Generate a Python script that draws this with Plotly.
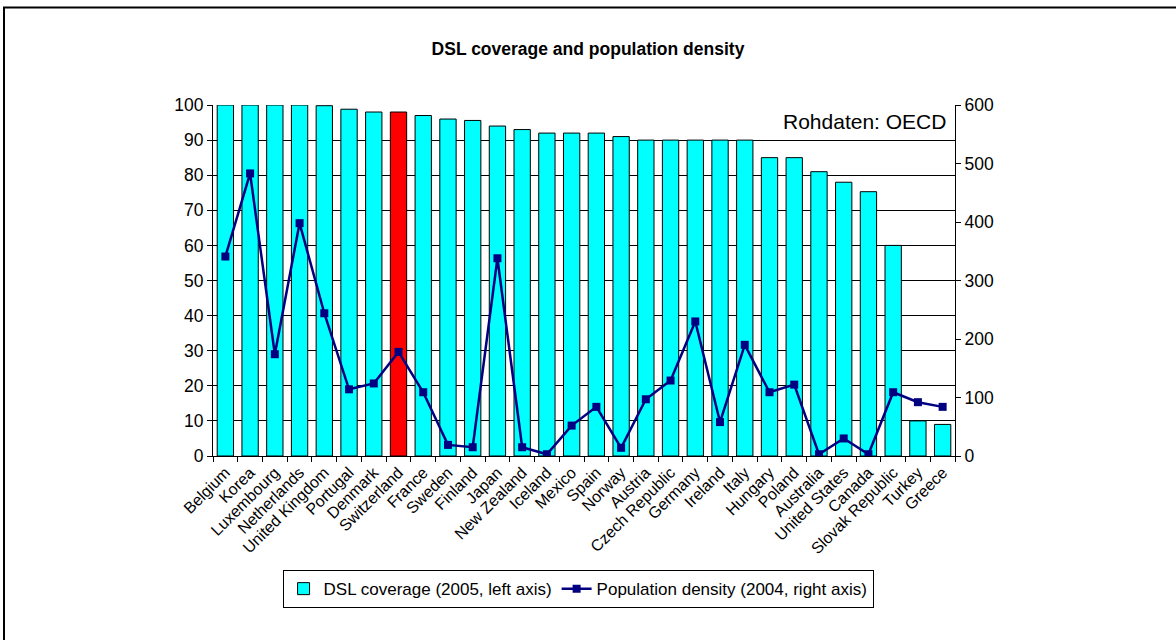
import plotly.graph_objects as go

# Countries in chart order
countries = ["Belgium", "Korea", "Luxembourg", "Netherlands", "United Kingdom", "Portugal",
             "Denmark", "Switzerland", "France", "Sweden", "Finland", "Japan", "New Zealand",
             "Iceland", "Mexico", "Spain", "Norway", "Austria", "Czech Republic", "Germany",
             "Ireland", "Italy", "Hungary", "Poland", "Australia", "United States", "Canada",
             "Slovak Republic", "Turkey", "Greece"]

# DSL coverage 2005 (% , left axis)
dsl_coverage = [100, 100, 100, 100, 99.8, 98.8, 98, 98, 97, 96, 95.6, 94, 93,
                92, 92, 92, 91, 90, 90, 90, 90, 90, 85, 85, 81, 78, 75.3,
                60, 10, 9]

# Population density 2004 (inhabitants per km2, right axis)
pop_density = [341, 483, 174, 398, 244, 114, 124, 178, 109, 19, 15, 338, 15,
               3, 52, 84, 14, 97, 129, 230, 58, 190, 109, 122, 3, 30, 3,
               109, 92, 84]

highlight = "Switzerland"
bar_colors = ["#FF0000" if c == highlight else "#00FFFF" for c in countries]

FONT = "Arial, Liberation Sans, sans-serif"

fig = go.Figure()

fig.add_trace(go.Bar(
    x=countries,
    y=dsl_coverage,
    name="DSL coverage (2005, left axis)",
    marker=dict(color=bar_colors, line=dict(color="black", width=1)),
    yaxis="y",
))

fig.add_trace(go.Scatter(
    x=countries,
    y=pop_density,
    name="Population density (2004, right axis)",
    mode="lines+markers",
    line=dict(color="#000080", width=2.5),
    marker=dict(symbol="square", size=8, color="#000080"),
    yaxis="y2",
))

fig.update_layout(
    width=1176,
    height=640,
    margin=dict(l=213, r=221, t=105, b=184, autoexpand=False),
    paper_bgcolor="white",
    plot_bgcolor="white",
    font=dict(family=FONT, size=16, color="black"),
    title=dict(
        text="<b>DSL coverage and population density</b>",
        x=0.5, xanchor="center",
        y=1 - 49 / 640, yanchor="middle",
        font=dict(family=FONT, size=17.5, color="black"),
    ),
    bargap=0.34,
    showlegend=True,
    legend=dict(
        orientation="h",
        x=0.492, xanchor="center",
        y=-0.325, yanchor="top",
        bordercolor="black", borderwidth=1,
        bgcolor="white",
        font=dict(family=FONT, size=17, color="black"),
        itemwidth=30,
    ),
    xaxis=dict(
        type="category",
        range=[-0.5, len(countries) - 0.5],
        automargin=False,
        tickangle=-45,
        tickson="boundaries",
        ticks="outside", ticklen=5, tickcolor="black",
        showline=True, linecolor="black", linewidth=1,
        showgrid=False,
        tickfont=dict(family=FONT, size=16, color="black"),
    ),
    yaxis=dict(
        range=[0, 100], dtick=10,
        automargin=False,
        ticks="outside", ticklen=5, tickcolor="black",
        showline=True, linecolor="black", linewidth=1,
        showgrid=True, gridcolor="black", gridwidth=1,
        zeroline=False,
        tickfont=dict(family=FONT, size=17.5, color="black"),
    ),
    yaxis2=dict(
        range=[0, 600], dtick=100,
        automargin=False,
        overlaying="y", side="right",
        ticks="outside", ticklen=5, tickcolor="black",
        showline=True, linecolor="black", linewidth=1,
        showgrid=False, zeroline=False,
        tickfont=dict(family=FONT, size=17.5, color="black"),
    ),
)

fig.add_annotation(
    text="Rohdaten: OECD",
    xref="paper", yref="paper",
    x=0.9906, y=0.9536,
    xanchor="right", yanchor="middle",
    showarrow=False,
    font=dict(family=FONT, size=21, color="black"),
)

# outer chart frame (right/bottom edges run past the picture)
fig.add_shape(
    type="rect",
    xref="paper", yref="paper",
    x0=(4 - 213) / 742, x1=(1185 - 213) / 742,
    y0=(456 - 650) / 351.3, y1=(456 - 7) / 351.3,
    line=dict(color="black", width=2),
    layer="below",
)

fig.write_html("out.html", config={"displayModeBar": False},
               post_script="document.body.style.margin='0';")
